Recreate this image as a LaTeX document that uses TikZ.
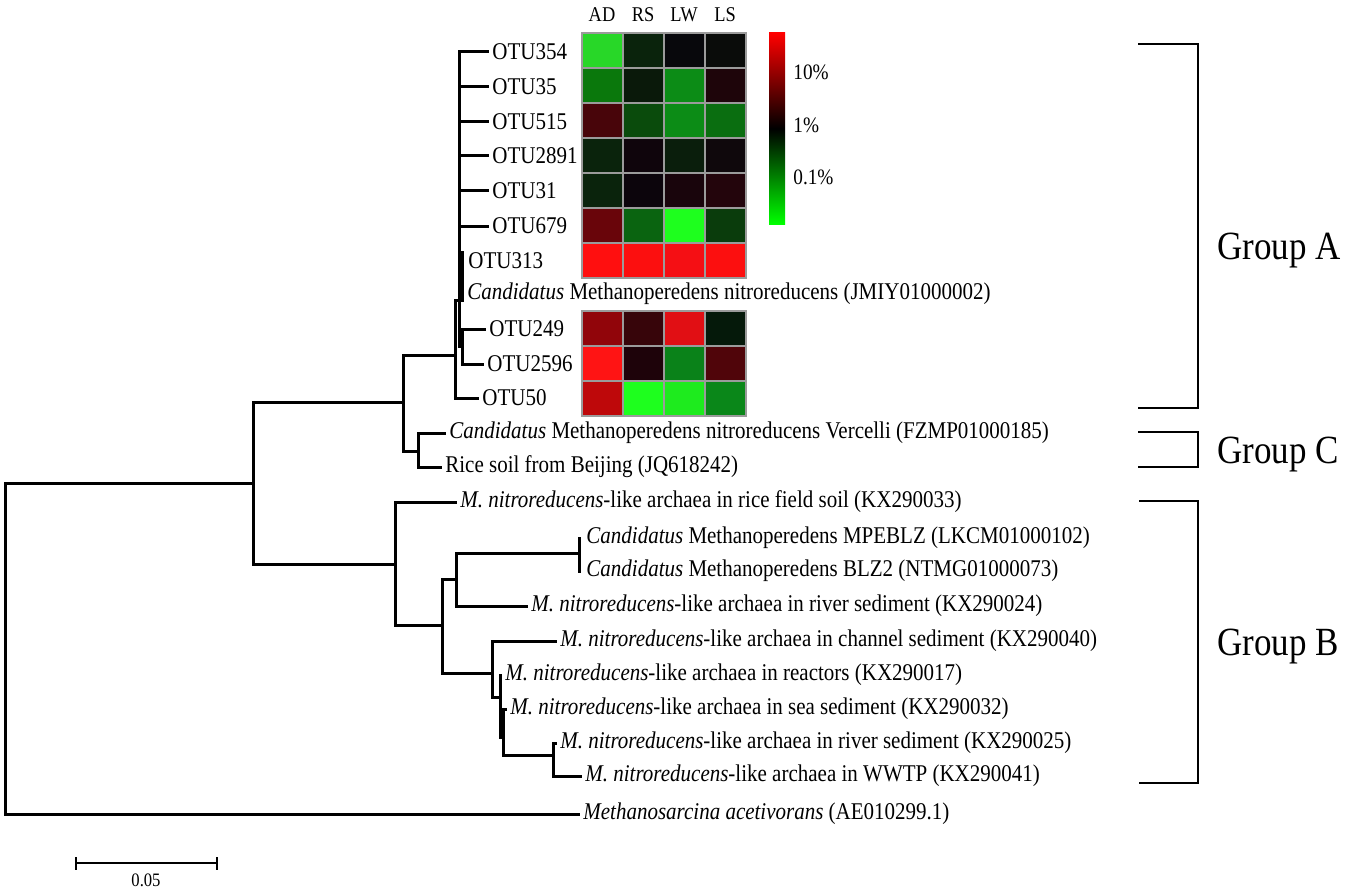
\documentclass[tikz,border=0pt]{standalone}
\usepackage{fontspec}
\setmainfont{Liberation Serif}[FakeStretch=0.875]
\newcommand{\lblsize}{\fontsize{12}{14}\selectfont}
\newcommand{\grpsize}{\fontsize{20}{24}\selectfont}
\newcommand{\colsize}{\fontsize{10.5}{12}\selectfont}
\newcommand{\legsize}{\fontsize{11}{13}\selectfont}
\newcommand{\sclsize}{\fontsize{9.5}{11}\selectfont}
% heatmap colours (row, column a=AD b=RS c=LW d=LS)
\definecolor{h1a}{RGB}{40,215,40}\definecolor{h1b}{RGB}{10,35,12}\definecolor{h1c}{RGB}{8,8,12}\definecolor{h1d}{RGB}{10,12,10}
\definecolor{h2a}{RGB}{10,120,12}\definecolor{h2b}{RGB}{10,25,10}\definecolor{h2c}{RGB}{12,140,22}\definecolor{h2d}{RGB}{30,5,10}
\definecolor{h3a}{RGB}{72,5,10}\definecolor{h3b}{RGB}{10,75,12}\definecolor{h3c}{RGB}{12,140,22}\definecolor{h3d}{RGB}{10,110,16}
\definecolor{h4a}{RGB}{10,35,12}\definecolor{h4b}{RGB}{15,5,12}\definecolor{h4c}{RGB}{10,30,12}\definecolor{h4d}{RGB}{15,8,12}
\definecolor{h5a}{RGB}{10,35,12}\definecolor{h5b}{RGB}{12,5,12}\definecolor{h5c}{RGB}{25,5,12}\definecolor{h5d}{RGB}{35,5,12}
\definecolor{h6a}{RGB}{105,5,10}\definecolor{h6b}{RGB}{10,100,16}\definecolor{h6c}{RGB}{30,255,30}\definecolor{h6d}{RGB}{10,60,12}
\definecolor{h7a}{RGB}{255,15,15}\definecolor{h7b}{RGB}{252,15,15}\definecolor{h7c}{RGB}{245,15,20}\definecolor{h7d}{RGB}{252,15,15}
\definecolor{h8a}{RGB}{145,5,10}\definecolor{h8b}{RGB}{55,5,10}\definecolor{h8c}{RGB}{225,15,20}\definecolor{h8d}{RGB}{5,25,10}
\definecolor{h9a}{RGB}{255,20,20}\definecolor{h9b}{RGB}{30,3,10}\definecolor{h9c}{RGB}{10,130,25}\definecolor{h9d}{RGB}{80,5,10}
\definecolor{h10a}{RGB}{190,8,10}\definecolor{h10b}{RGB}{30,255,30}\definecolor{h10c}{RGB}{30,235,30}\definecolor{h10d}{RGB}{10,135,25}
\definecolor{gridgray}{RGB}{155,155,155}
\begin{document}
\begin{tikzpicture}[x=0.5pt,y=-0.5pt,
  br/.style={line width=1.5pt, line cap=rect, line join=miter},
  brk/.style={line width=0.8pt},
  lab/.style={anchor=west, inner ysep=0pt, inner xsep=2.5pt, font=\lblsize},
  grp/.style={anchor=base west, inner sep=0pt, font=\grpsize},
  collab/.style={anchor=base, inner sep=0pt, font=\colsize},
  leglab/.style={anchor=west, inner sep=0pt, font=\legsize},
  cell/.style={draw=gridgray, line width=0.8pt}]
\useasboundingbox (0,0) rectangle (1350,888);

% ---------- internal nodes ----------
\coordinate (R)  at (5,648);
\coordinate (A0) at (253,483);
\coordinate (A1) at (403,402);
\coordinate (A2) at (455,355);
\coordinate (A3) at (459,300);
\coordinate (A4) at (462,346);
\coordinate (C)  at (418,451);
\coordinate (B0) at (395,564);
\coordinate (B1) at (442,625);
\coordinate (B2) at (456,579);
\coordinate (B3) at (579,553);
\coordinate (B4) at (492,673);
\coordinate (B5) at (500,697);
\coordinate (B6) at (503,737);
\coordinate (B7) at (553,755);

% ---------- leaf labels ----------
\node[lab] (o354)  at (487,52)  {OTU354};
\node[lab] (o35)   at (487,87)  {OTU35};
\node[lab] (o515)  at (487,122) {OTU515};
\node[lab] (o2891) at (487,156) {OTU2891};
\node[lab] (o31)   at (487,191) {OTU31};
\node[lab] (o679)  at (487,226) {OTU679};
\node[lab] (o313)  at (463,261) {OTU313};
\node[lab] (cmn)   at (462,294) {\textit{Candidatus} Methanoperedens nitroreducens (JMIY01000002)};
\node[lab] (o249)  at (484,329) {OTU249};
\node[lab] (o2596) at (482,364) {OTU2596};
\node[lab] (o50)   at (477,398) {OTU50};
\node[lab] (verc)  at (444,433) {\textit{Candidatus} Methanoperedens nitroreducens Vercelli (FZMP01000185)};
\node[lab] (rice)  at (440,467) {Rice soil from Beijing (JQ618242)};
\node[lab] (rfs)   at (455,502) {\textit{M. nitroreducens}-like archaea in rice field soil (KX290033)};
\node[lab] (mpe)   at (581,538) {\textit{Candidatus} Methanoperedens MPEBLZ (LKCM01000102)};
\node[lab] (blz)   at (581,571) {\textit{Candidatus} Methanoperedens BLZ2 (NTMG01000073)};
\node[lab] (riv1)  at (526,606) {\textit{M. nitroreducens}-like archaea in river sediment (KX290024)};
\node[lab] (chan)  at (555,641) {\textit{M. nitroreducens}-like archaea in channel sediment (KX290040)};
\node[lab] (reac)  at (500,675) {\textit{M. nitroreducens}-like archaea in reactors (KX290017)};
\node[lab] (sea)   at (505,709) {\textit{M. nitroreducens}-like archaea in sea sediment (KX290032)};
\node[lab] (riv2)  at (555,743) {\textit{M. nitroreducens}-like archaea in river sediment (KX290025)};
\node[lab] (wwtp)  at (580,776) {\textit{M. nitroreducens}-like archaea in WWTP (KX290041)};
\node[lab] (out)   at (578,814) {\textit{Methanosarcina acetivorans} (AE010299.1)};

% ---------- branches ----------
\draw[br] (R) |- (A0);
\draw[br] (R) |- (out.west);
\draw[br] (A0) |- (A1);
\draw[br] (A0) |- (B0);
\draw[br] (A1) |- (A2);
\draw[br] (A1) |- (C);
\draw[br] (A2) |- (A3);
\draw[br] (A2) |- (o50.west);
\foreach \n in {o354,o35,o515,o2891,o31,o679} \draw[br] (A3) |- (\n.west);
\draw[br] (A3) |- (A4);
\draw[br] ([xshift=1.5pt]A3 |- o313.north) -- ([xshift=1.5pt]A3);
\draw[br] (A4) |- (o249.west);
\draw[br] (A4) |- (o2596.west);
\draw[br] (C) |- (verc.west);
\draw[br] (C) |- (rice.west);
\draw[br] (B0) |- (rfs.west);
\draw[br] (B0) |- (B1);
\draw[br] (B1) |- (B2);
\draw[br] (B1) |- (B4);
\draw[br] (B2) |- (B3);
\draw[br] (B2) |- (riv1.west);
\draw[br] (B3 |- mpe.west) -- (B3 |- blz.west);
\draw[br] (B4) |- (chan.west);
\draw[br] (B4) |- (B5);
\draw[br] (B5) |- (reac.west);
\draw[br] (B5) |- (B6);
\draw[br] (B6) |- (sea.west);
\draw[br] (B6) |- (B7);
\draw[br] (B7) |- (riv2.west);
\draw[br] (B7) |- (wwtp.west);

% ---------- heatmap ----------
\foreach \row/\ytop in {1/33,2/68,3/103,4/138,5/173,6/208,7/243,8/311,9/346,10/381}{
  \foreach \col/\xl in {a/582,b/623,c/664,d/705}{
    \filldraw[cell, fill=h\row\col] (\xl,\ytop) rectangle ++(41,35);
  }
}
\node[collab] (cAD) at (602,22) {AD};
\node[collab] (cRS) at (643,22) {RS};
\node[collab] (cLW) at (684,22) {LW};
\node[collab] (cLS) at (725,22) {LS};

% ---------- colour key ----------
\shade[top color=red, bottom color=green, middle color=black] (769,33) rectangle (785,224);
\node[leglab] (k10)  at (793,72)  {10\%};
\node[leglab] (k1)   at (793,125) {1\%};
\node[leglab] (k01)  at (793,177) {0.1\%};

% ---------- group brackets ----------
\coordinate (gAt) at (1138,44);  \coordinate (gAb) at (1138,408);
\coordinate (gCt) at (1138,432); \coordinate (gCb) at (1138,467);
\coordinate (gBt) at (1139,501); \coordinate (gBb) at (1139,783);
\draw[brk] (gAt) -- (1198,44) -- (1198,408) -- (gAb);
\draw[brk] (gCt) -- (1198,432) -- (1198,467) -- (gCb);
\draw[brk] (gBt) -- (1198,501) -- (1198,783) -- (gBb);
\node[grp] (gA) at (1217,259) {Group A};
\node[grp] (gC) at (1217,463) {Group C};
\node[grp] (gB) at (1217,655) {Group B};

% ---------- scale bar ----------
\coordinate (s1) at (76,863); \coordinate (s2) at (217,863);
\draw[line width=1.2pt] (s1) -- (s2);
\draw[line width=1.2pt] ([yshift=3pt]s1) -- ([yshift=-3.5pt]s1);
\draw[line width=1.2pt] ([yshift=3pt]s2) -- ([yshift=-3.5pt]s2);
\node[anchor=base, inner sep=0pt, font=\sclsize] (slab) at (146,886) {0.05};
\end{tikzpicture}
\end{document}
